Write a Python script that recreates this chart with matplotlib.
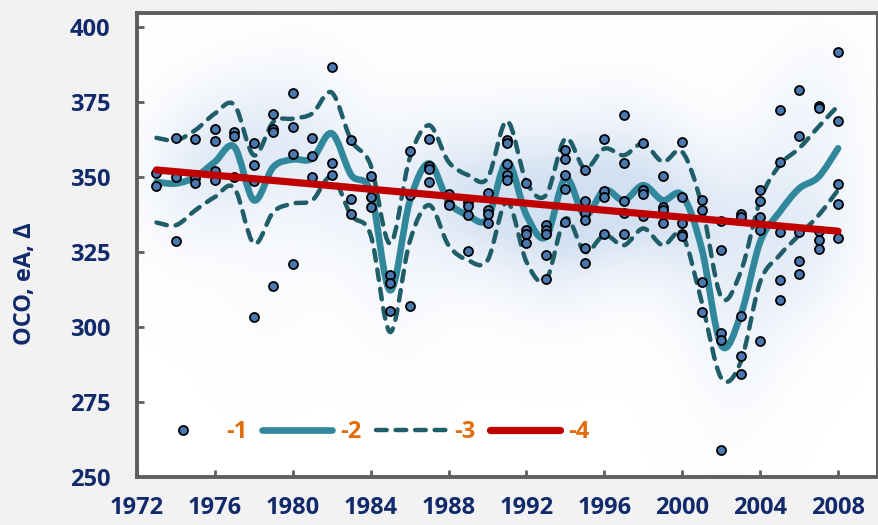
import numpy as np
import matplotlib
matplotlib.use("Agg")
import matplotlib.pyplot as plt
from matplotlib.path import Path
from matplotlib.patches import PathPatch
from matplotlib.lines import Line2D
from matplotlib.colors import LinearSegmentedColormap

# ---- observations (year, value) ----
obs = {
    1973: [351.3, 346.9],
    1974: [363.0, 349.8, 328.5],
    1975: [362.6, 349.5, 348.0],
    1976: [366.0, 361.8, 351.9, 349.0],
    1977: [365.0, 363.7, 349.9],
    1978: [361.2, 354.1, 348.7, 303.2],
    1979: [370.9, 366.1, 364.8, 313.5],
    1980: [377.8, 366.5, 357.5, 320.9],
    1981: [363.1, 356.9, 349.8],
    1982: [386.7, 354.7, 350.6],
    1983: [362.3, 342.7, 337.6],
    1984: [350.3, 343.4, 340.0],
    1985: [317.2, 314.6, 305.3],
    1986: [358.6, 343.9, 307.0],
    1987: [362.6, 353.6, 352.6, 348.3],
    1988: [344.2, 341.1, 340.6],
    1989: [341.7, 340.3, 337.2, 325.2],
    1990: [344.5, 339.1, 337.6, 334.5],
    1991: [362.2, 361.3, 354.2, 350.6, 348.9],
    1992: [348.0, 332.2, 331.1, 328.0],
    1993: [333.9, 332.2, 330.8, 323.9, 316.1],
    1994: [359.1, 356.1, 350.6, 346.1, 334.8],
    1995: [352.2, 341.9, 337.8, 335.6, 326.3, 321.3],
    1996: [362.6, 345.3, 343.3, 330.8],
    1997: [370.6, 354.7, 342.0, 338.1, 331.1],
    1998: [361.4, 345.6, 344.2, 337.0],
    1999: [350.2, 339.8, 339.1, 334.5],
    2000: [361.7, 343.3, 334.7, 331.1, 330.2],
    2001: [342.2, 338.9, 315.0, 305.0],
    2002: [335.3, 325.6, 298.0, 295.8, 258.9],
    2003: [337.6, 336.5, 303.7, 290.3, 284.2],
    2004: [345.6, 342.0, 336.7, 332.2, 295.3],
    2005: [372.2, 354.8, 331.7, 315.6, 308.9],
    2006: [378.9, 363.7, 331.7, 322.0, 317.5],
    2007: [373.7, 373.1, 331.9, 328.9, 326.1],
    2008: [391.7, 368.6, 347.6, 340.8, 329.7],
}
point_years = [y for y, vals in obs.items() for _ in vals]
point_values = [v for vals in obs.values() for v in vals]

# ---- smoothed mean and its envelope, one value per year ----
curve_years = list(range(1973, 2009))
mean_curve = [348.3, 347.8, 350.0, 355.0, 360.0, 342.2, 353.3, 355.8, 356.1, 364.5,
              350.6, 345.0, 312.2, 341.7, 354.5, 341.7, 337.2, 336.1, 355.0, 337.2,
              330.0, 349.5, 337.2, 345.6, 342.2, 347.2, 342.2, 343.9, 326.1, 293.9,
              303.9, 328.3, 338.3, 346.1, 350.0, 359.5]
upper_curve = [363.0, 362.2, 365.6, 371.1, 374.0, 357.2, 368.3, 369.4, 371.1, 378.1,
               362.2, 353.9, 327.8, 356.1, 367.2, 355.0, 350.6, 349.5, 368.6, 348.3,
               343.9, 362.8, 352.8, 359.4, 357.2, 361.1, 355.0, 358.3, 340.6, 310.0,
               318.3, 342.2, 353.9, 359.5, 366.7, 373.7]
lower_curve = [334.8, 333.9, 338.9, 343.3, 346.3, 327.8, 338.3, 341.1, 342.2, 350.0,
               337.2, 330.6, 298.3, 328.3, 340.6, 327.2, 322.2, 322.2, 341.7, 321.7,
               315.6, 336.1, 325.0, 330.6, 327.2, 332.8, 327.2, 330.6, 308.3, 283.0,
               288.3, 315.0, 323.9, 330.6, 337.2, 345.6]

# ---- linear trend ----
trend_years = [1973, 2008]
trend_values = [352.3, 331.9]

legend_labels = ["-1", "-2", "-3", "-4"]
x_ticks = list(range(1972, 2009, 4))
y_ticks = list(range(250, 401, 25))

NAVY = "#112a6b"
ORANGE = "#e36c0a"
TEAL = "#31879c"
DARK_TEAL = "#1f5d69"
RED = "#c00000"
POINT = "#4a78b0"
SPINE = "#5e5e5e"

FAMILY = ["Open Sans", "DejaVu Sans"]
plt.rcParams["font.family"] = FAMILY
plt.rcParams["font.weight"] = "bold"

fig = plt.figure(figsize=(8.79, 5.25), dpi=100, facecolor="#f2f2f2")
ax = fig.add_axes([137 / 879, 1 - 477 / 525, 740 / 879, 464 / 525])
ax.set_xlim(1972, 2010)
ax.set_ylim(250, 404.6)
ax.set_facecolor("white")


def smooth_path(xs, ys):
    """Catmull-Rom curve through the given knots, as cubic Bezier segments."""
    p = np.column_stack([xs, ys]).astype(float)
    ext = np.vstack([p[0], p, p[-1]])
    verts = [p[0]]
    codes = [Path.MOVETO]
    for i in range(1, len(ext) - 2):
        p0, p1, p2, p3 = ext[i - 1], ext[i], ext[i + 1], ext[i + 2]
        c1 = p1 + (p2 - p0) / 6.0
        c2 = p2 - (p3 - p1) / 6.0
        verts += [c1, c2, p2]
        codes += [Path.CURVE4] * 3
    return Path(verts, codes)


# soft haze behind the data: a wide kernel density of the observations
gx = np.linspace(1972, 2010, 380)
gy = np.linspace(250, 404.6, 300)
GX, GY = np.meshgrid(gx, gy)
dens = np.zeros_like(GX)
for yr, v in zip(point_years, point_values):
    dens += np.exp(-((GX - yr) ** 2 / (2 * 1.8 ** 2) + (GY - v) ** 2 / (2 * 18.0 ** 2)))
dens /= dens.max()
haze = LinearSegmentedColormap.from_list("haze", ["#ffffff", "#edf2fa", "#d2e0f1"])
ax.imshow(np.clip(dens * 1.1, 0, 1) ** 1.2, extent=(1972, 2010, 250, 404.6), origin="lower",
          aspect="auto", cmap=haze, vmin=0, vmax=1, zorder=0, interpolation="bilinear")

# envelope and mean curves
DASH = (0, (2.4, 2.0))
for vals, kw in [
    (upper_curve, dict(edgecolor=DARK_TEAL, lw=3.2, linestyle=DASH)),
    (lower_curve, dict(edgecolor=DARK_TEAL, lw=3.2, linestyle=DASH)),
    (mean_curve, dict(edgecolor=TEAL, lw=4.8)),
]:
    patch = PathPatch(smooth_path(curve_years, vals), facecolor="none",
                      capstyle="round", joinstyle="round", zorder=3, **kw)
    ax.add_patch(patch)

ax.scatter(point_years, point_values, s=42, facecolor=POINT, edgecolor="black",
           linewidth=1.3, zorder=4)

ax.plot(trend_years, trend_values, color=RED, lw=5.2, solid_capstyle="round", zorder=5)

# axes styling
ax.set_xticks(x_ticks)
ax.set_yticks(y_ticks)
ax.tick_params(axis="both", direction="in", length=5, width=2, color=SPINE,
               labelsize=17, labelcolor=NAVY)
ax.tick_params(axis="y", pad=19)
ax.tick_params(axis="x", pad=14)
for lab in ax.get_xticklabels() + ax.get_yticklabels():
    lab.set_fontweight("bold")
for side in ["left", "bottom", "top"]:
    ax.spines[side].set_color(SPINE)
    ax.spines[side].set_linewidth(2.8)
ax.spines["right"].set_color(SPINE)
ax.spines["right"].set_linewidth(1.4)

fig.text(25 / 879, 1 - 284 / 525, "OCO, eA, Δ", rotation=90, ha="center", va="center",
         fontsize=17, fontweight="bold", color=NAVY)

handles = [
    Line2D([], [], ls="none", marker="o", ms=6.5, mfc=POINT, mec="black", mew=1.3),
    Line2D([], [], color=TEAL, lw=4.8, solid_capstyle="round"),
    Line2D([], [], color=DARK_TEAL, lw=3.2, ls=DASH, dash_capstyle="round"),
    Line2D([], [], color=RED, lw=5.2, solid_capstyle="round"),
]
leg = ax.legend(handles, legend_labels, loc="center left", bbox_to_anchor=(0.0149, 0.097),
                ncol=4, frameon=False, borderpad=0, borderaxespad=0,
                handlelength=2.97, handletextpad=0.34, columnspacing=0.62,
                prop={"size": 17, "weight": "bold"})
for t in leg.get_texts():
    t.set_color(ORANGE)

fig.savefig("out.png", dpi=100, facecolor=fig.get_facecolor())
